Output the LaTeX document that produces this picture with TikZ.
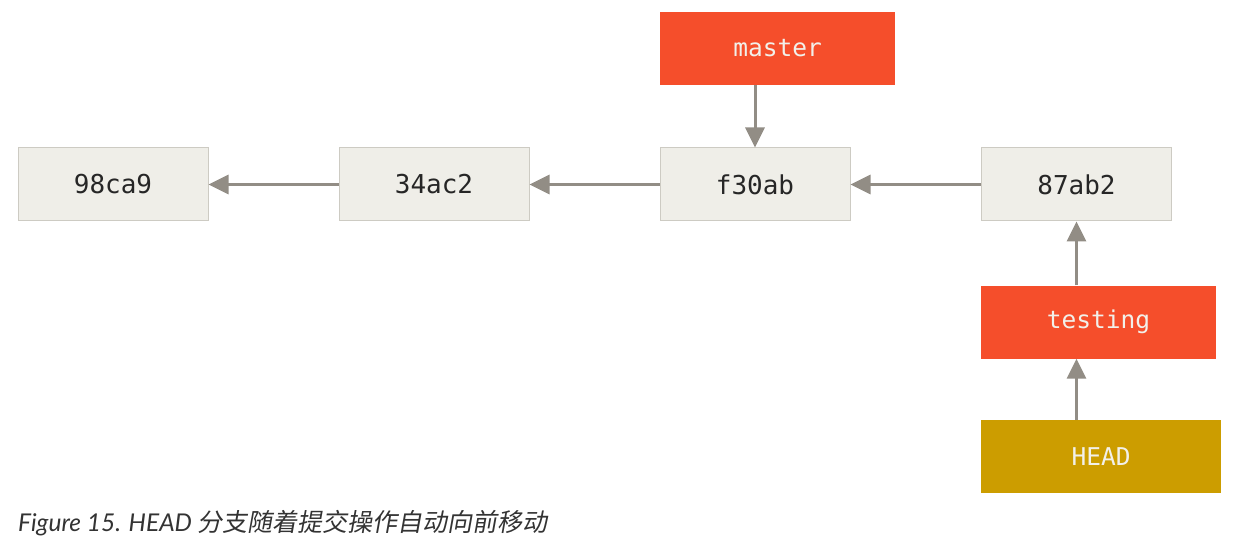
\documentclass[tikz,border=0pt]{standalone}
\usepackage{fontspec}
\usetikzlibrary{arrows.meta}
\setmonofont{DejaVu Sans Mono}
\newfontfamily\capfont{Lato}
\newfontfamily\cjk[FakeSlant=0.18]{Noto Sans CJK SC}
\definecolor{commitfill}{HTML}{EFEEE8}
\definecolor{commitline}{HTML}{CDCBC3}
\definecolor{branchred}{HTML}{F54E2B}
\definecolor{headgold}{HTML}{CC9D00}
\definecolor{arrowgray}{HTML}{928D85}
\definecolor{lighttext}{HTML}{F2F0EA}
\definecolor{captext}{HTML}{333333}
\begin{document}
\begin{tikzpicture}[x=1pt,y=-1pt,
  commit/.style={draw=commitline,line width=1pt,fill=commitfill,minimum width=190pt,minimum height=73pt,inner sep=0pt,font=\ttfamily\fontsize{26}{30}\selectfont,text=black!85},
  branch/.style={fill=branchred,minimum width=235pt,minimum height=73pt,inner sep=0pt,font=\ttfamily\fontsize{24.5}{30}\selectfont,text=lighttext},
  headbox/.style={fill=headgold,minimum width=240pt,minimum height=73pt,inner sep=0pt,font=\ttfamily\fontsize{24.5}{30}\selectfont,text=lighttext},
  link/.style={draw=arrowgray,line width=3pt,-{Triangle[length=20pt,width=19pt]}}]
\useasboundingbox (0,0) rectangle (1241,553);
\node[commit] (c1) at (113,184.5) {98ca9};
\node[commit] (c2) at (434,184.5) {34ac2};
\node[commit] (c3) at (755,184.5) {f30ab};
\node[commit] (c4) at (1076.5,184.5) {87ab2};
\node[branch] (master) at (777.5,48.5) {master};
\node[branch] (testing) at (1098.5,322) {testing};
\node[headbox] (head) at (1101,456.5) {HEAD};
\draw[link] (c2.west) -- (c1.east);
\draw[link] (c3.west) -- (c2.east);
\draw[link] (c4.west) -- (c3.east);
\draw[link] (master.south -| c3.north) -- (c3.north);
\draw[link] (testing.north -| c4.south) -- (c4.south);
\draw[link] (head.north -| c4.south) -- (testing.south -| c4.south);
\node[anchor=base west,inner sep=0pt,text=captext,font=\fontsize{24.5}{28}\selectfont] (cap) at (18,531) {\capfont\itshape Figure 15. HEAD \cjk\fontsize{25}{28}\selectfont 分支随着提交操作自动向前移动};
\end{tikzpicture}
\end{document}
